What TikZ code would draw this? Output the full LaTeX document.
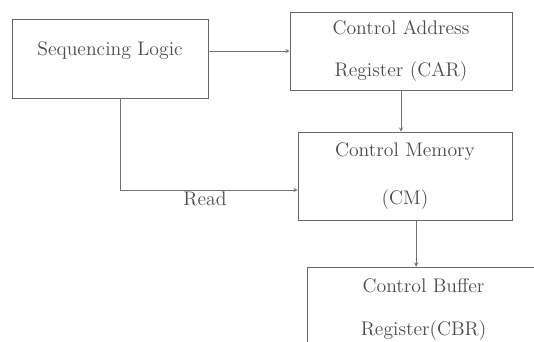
\documentclass[tikz,border=0pt]{standalone}
\usepackage{tikz}
\usetikzlibrary{arrows,calc,positioning}

\begin{document}
\begin{tikzpicture}[>=stealth,
     blk/.style={draw=black!60,thin,rectangle,inner sep=0pt,align=center,
                 text=black!70,font=\fontsize{14}{16}\selectfont},
     lnk/.style={draw=black!55,thin,->}]
            \useasboundingbox (0,0) rectangle (13.35,-8.55);
          	\node[blk,minimum width=4.9cm,minimum height=1.975cm,text depth=0.5cm] (sl) at (2.75,-1.4625) {Sequencing Logic};
            \node[blk,minimum width=5.55cm,minimum height=1.95cm] (car) at (10.025,-1.275) {Control Address\\[0.5cm]Register (CAR)};
            \node[blk,minimum width=5.35cm,minimum height=2.2cm] (cm) at (10.125,-4.4) {Control Memory\\[0.65cm](CM)};
            \node[blk,minimum width=5.825cm,minimum height=2.125cm] (cbr) at (10.59,-7.7375) {Control Buffer\\[0.5cm]Register(CBR)};
             \coordinate (rd) at (3.0,-4.75);
             \draw[lnk] (sl.east |- car) to (car.west);
             \draw[lnk] (car.south) to (car.south |- cm.north);
             \draw[lnk] ([xshift=0.28cm]cm.south) to ([xshift=0.28cm]cm.south |- cbr.north);
             \draw[lnk] (sl.south -| rd) to (rd) to (rd -| cm.west);
             \node[text=black!70,font=\fontsize{14}{16}\selectfont,inner sep=1pt] (read) at (5.125,-4.97) {Read};
      \end{tikzpicture}
\end{document}
